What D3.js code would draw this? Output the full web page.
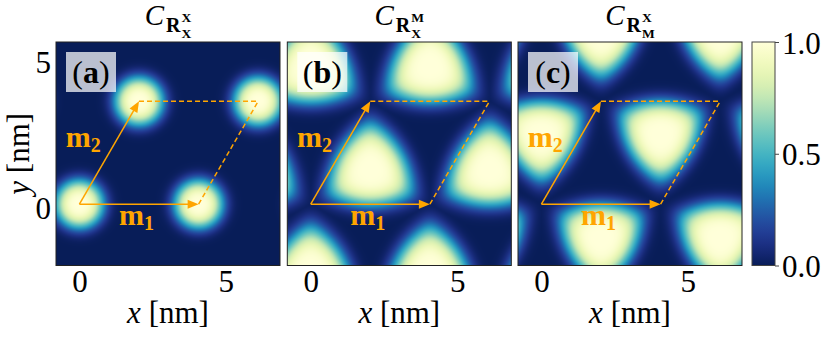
<!DOCTYPE html>
<html><head><meta charset="utf-8">
<script src="https://cdn.jsdelivr.net/npm/d3@7"></script>
<style>
body{margin:0;background:#fff}
svg{display:block}
text{font-family:"Liberation Serif","DejaVu Serif",serif;fill:#000}
</style>
</head><body>
<svg id="chart" width="822" height="337"></svg>
<script>
// ---------- data ----------
const panelIds = ["a", "b", "c"];
const titleSup = ["X", "M", "X"];
const titleSub = ["X", "X", "M"];
const blobShapes = ["round", "up", "down"];
const blobCentersA = [[0,0],[4.07,0],[8.14,0],[-2.035,3.52],[2.035,3.52],[6.105,3.52],[-2.035,-3.52],[2.035,-3.52],[6.105,-3.52]];
const blobCentersB = [[-2.035,1.175],[2.035,1.175],[6.105,1.175],[0,4.695],[4.07,4.695],[8.14,4.695],[0,-2.345],[4.07,-2.345],[8.14,-2.345]];
const blobCentersC = [[0,2.35],[4.07,2.35],[8.14,2.35],[-2.035,-1.17],[2.035,-1.17],[6.105,-1.17],[-2.035,5.87],[2.035,5.87],[6.105,5.87]];
const blobRadius = [0.85, 1.1, 1.05];     // nm
const blobSharpness = [3.3, 3.6, 3.6];
const blobTriangularity = [0, 0.55, 0.55];
const vecM1 = [4.07, 0];
const vecM2 = [2.035, 3.52];
const xTicks = [0, 5];
const yTicks = [0, 5];
const cbTicks = [0, 0.5, 1];
const xLimits = [-0.8, 6.85];
const yLimits = [-2.1, 5.55];
const blobCenters = [blobCentersA, blobCentersB, blobCentersC];

// ---------- layout ----------
const svg = d3.select("#chart");
const panelLeft = [56, 287.3, 518];
const plotTop = 42, pw = 224, ph = 223.5;
const orange = "#ffa500";
const color = d3.scaleSequential(t => d3.interpolateYlGnBu(1 - t)).domain([0, 1]);

function shapeMeasure(dx, dy, k) {
  const d = Math.hypot(dx, dy);
  const a = blobTriangularity[k];
  if (a === 0) return d;
  const sg = blobShapes[k] === "up" ? 1 : -1;
  const pr = [-sg * dy, 0.8660254 * dx + 0.5 * sg * dy, -0.8660254 * dx + 0.5 * sg * dy];
  const beta = 0.25, m = Math.max(...pr);
  const tri = m + beta * Math.log(pr.reduce((s, p) => s + Math.exp((p - m) / beta), 0)) - beta * Math.log(3);
  return a * tri + (1 - a) * d;
}
function fieldValue(px, py, k) {
  let v = 0;
  for (const c of blobCenters[k]) {
    const t = Math.max(0, shapeMeasure(px - c[0], py - c[1], k));
    v = Math.max(v, Math.exp(-Math.pow(t / blobRadius[k], blobSharpness[k])));
  }
  return v;
}

const defs = svg.append("defs");

panelIds.forEach((id, k) => {
  const left = panelLeft[k];
  const x = d3.scaleLinear().domain(xLimits).range([left, left + pw]);
  const y = d3.scaleLinear().domain(yLimits).range([plotTop + ph, plotTop]);
  const g = svg.append("g");

  // heatmap
  const cw = Math.round(pw), ch = Math.round(ph);
  const canvas = document.createElement("canvas");
  canvas.width = cw; canvas.height = ch;
  const ctx = canvas.getContext("2d");
  const img = ctx.createImageData(cw, ch);
  for (let j = 0; j < ch; j++) {
    const yy = y.invert(plotTop + (j + 0.5) * ph / ch);
    for (let i = 0; i < cw; i++) {
      const xx = x.invert(left + (i + 0.5) * pw / cw);
      const c = d3.rgb(color(fieldValue(xx, yy, k)));
      const o = (j * cw + i) * 4;
      img.data[o] = c.r; img.data[o+1] = c.g; img.data[o+2] = c.b; img.data[o+3] = 255;
    }
  }
  ctx.putImageData(img, 0, 0);
  g.append("image").attr("x", left).attr("y", plotTop).attr("width", pw).attr("height", ph)
    .attr("preserveAspectRatio", "none").attr("href", canvas.toDataURL());

  // lattice vectors
  const ox = x(0), oy = y(0);
  const p1 = [x(vecM1[0]), y(vecM1[1])];
  const p2 = [x(vecM2[0]), y(vecM2[1])];
  const p12 = [x(vecM1[0] + vecM2[0]), y(vecM1[1] + vecM2[1])];
  g.append("path").attr("d", `M${p1[0]},${p1[1]}L${p12[0]},${p12[1]}M${p2[0]},${p2[1]}L${p12[0]},${p12[1]}`)
    .attr("stroke", orange).attr("stroke-width", 1.5).attr("fill", "none").attr("stroke-dasharray", "5,3");
  [p1, p2].forEach(p => {
    const dx = p[0] - ox, dy = p[1] - oy, L = Math.hypot(dx, dy);
    const ux = dx / L, uy = dy / L, hl = 11, hw = 4.5;
    const bx = p[0] - ux * hl, by = p[1] - uy * hl;
    g.append("line").attr("x1", ox).attr("y1", oy).attr("x2", bx + ux * 2).attr("y2", by + uy * 2)
      .attr("stroke", orange).attr("stroke-width", 1.5);
    g.append("path").attr("d", `M${p[0]},${p[1]}L${bx - uy * hw},${by + ux * hw}L${bx + uy * hw},${by - ux * hw}Z`)
      .attr("fill", orange);
  });
  // m labels
  const m2t = g.append("text").attr("x", x(-0.47)).attr("y", y(1.95))
    .style("fill", orange).attr("font-weight", "bold").attr("font-size", 30);
  m2t.append("tspan").text("m");
  m2t.append("tspan").attr("font-size", 20).attr("dy", 5).text("2");
  const m1t = g.append("text").attr("x", x(1.35)).attr("y", y(-0.72)).style("fill", orange)
    .attr("font-weight", "bold").attr("font-size", 30);
  m1t.append("tspan").text("m");
  m1t.append("tspan").attr("font-size", 20).attr("dy", 5).text("1");

  // panel label
  g.append("rect").attr("x", left + 10).attr("y", plotTop + 10).attr("width", 50).attr("height", 40)
    .attr("fill", "#fff").attr("fill-opacity", 0.72);
  const lt = g.append("text").attr("x", left + 35).attr("y", plotTop + 41).attr("text-anchor", "middle")
    .attr("font-size", 32);
  lt.append("tspan").text("(");
  lt.append("tspan").attr("font-weight", "bold").text(id);
  lt.append("tspan").text(")");

  // frame
  g.append("rect").attr("x", left).attr("y", plotTop).attr("width", pw).attr("height", ph)
    .attr("fill", "none").attr("stroke", "#222").attr("stroke-width", 1);

  // axes
  const ax = g.append("g").attr("transform", `translate(0,${plotTop + ph})`)
    .call(d3.axisBottom(x).tickValues(xTicks).tickSize(0).tickPadding(4).tickFormat(d3.format("d")));
  ax.select(".domain").remove();
  ax.selectAll("text").attr("font-size", 31).style("font-family", '"Liberation Serif",serif');
  if (k === 0) {
    const ay = g.append("g").attr("transform", `translate(${left},0)`)
      .call(d3.axisLeft(y).tickValues(yTicks).tickSize(0).tickPadding(5).tickFormat(d3.format("d")));
    ay.select(".domain").remove();
    ay.selectAll("text").attr("font-size", 31).attr("dy", "0.46em").style("font-family", '"Liberation Serif",serif');
    const yl = g.append("text").attr("transform", `translate(29,${plotTop + ph / 2}) rotate(-90)`)
      .attr("text-anchor", "middle").attr("font-size", 31);
    yl.append("tspan").attr("font-style", "italic").text("y");
    yl.append("tspan").text(" [nm]");
  }
  const xl = g.append("text").attr("x", left + pw / 2).attr("y", 323).attr("text-anchor", "middle").attr("font-size", 31);
  xl.append("tspan").attr("font-style", "italic").text("x");
  xl.append("tspan").text(" [nm]");

  // title
  const tg = g.append("g");
  const tC = tg.append("text").attr("font-size", 29).attr("font-style", "italic").attr("y", 25).text("C");
  const tR = tg.append("text").attr("font-size", 20).attr("font-weight", "bold").attr("y", 32).text("R");
  const tSup = tg.append("text").attr("font-size", 13.5).attr("font-weight", "bold").attr("y", 22).text(titleSup[k]);
  const tSub = tg.append("text").attr("font-size", 13.5).attr("font-weight", "bold").attr("y", 38).text(titleSub[k]);
  const wC = tC.node().getComputedTextLength(), wR = tR.node().getComputedTextLength();
  const wS = Math.max(tSup.node().getComputedTextLength(), tSub.node().getComputedTextLength());
  const total = wC + 2 + wR + 1 + wS;
  const sx = left + pw / 2 - total / 2;
  tC.attr("x", sx);
  tR.attr("x", sx + wC + 2);
  tSup.attr("x", sx + wC + 2 + wR + 1);
  tSub.attr("x", sx + wC + 2 + wR + 1);
});

// colorbar
const cbx = 752, cbw = 23;
const grad = defs.append("linearGradient").attr("id", "cbg").attr("x1", 0).attr("y1", 1).attr("x2", 0).attr("y2", 0);
d3.range(0, 1.0001, 0.05).forEach(t => grad.append("stop").attr("offset", t).attr("stop-color", color(t)));
svg.append("rect").attr("x", cbx).attr("y", plotTop).attr("width", cbw).attr("height", ph).attr("fill", "url(#cbg)")
  .attr("stroke", "#444").attr("stroke-width", 1);
const cs = d3.scaleLinear().domain([0, 1]).range([plotTop + ph, plotTop]);
const ca = svg.append("g").attr("transform", `translate(${cbx + cbw},0)`)
  .call(d3.axisRight(cs).tickValues(cbTicks).tickSize(4).tickPadding(3).tickFormat(d3.format(".1f")));
ca.select(".domain").remove();
ca.selectAll("line").attr("stroke", "#444");
ca.selectAll("text").attr("font-size", 31).attr("dy", "0.36em").style("font-family", '"Liberation Serif",serif');
</script>
</body></html>
